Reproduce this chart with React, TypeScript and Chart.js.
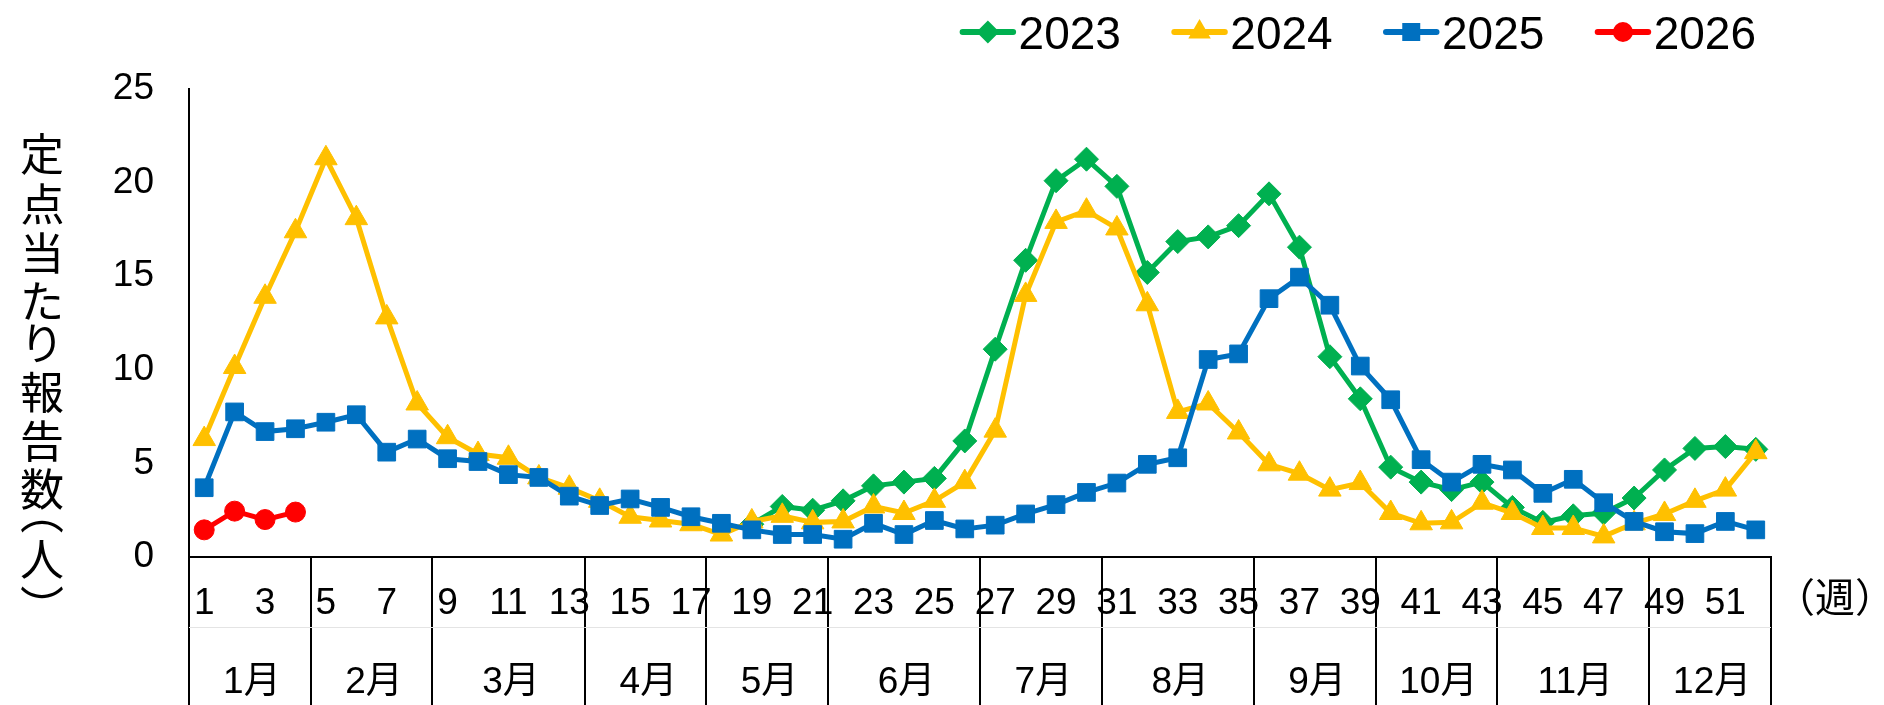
import React, { useEffect, useRef } from 'react';
import { Chart, registerables } from 'chart.js';

Chart.register(...registerables);

// ---- data ----
const weekLabels = ['1','2','3','4','5','6','7','8','9','10','11','12','13','14','15','16','17','18','19','20','21','22','23','24','25','26','27','28','29','30','31','32','33','34','35','36','37','38','39','40','41','42','43','44','45','46','47','48','49','50','51','52'];

const data2023 = [null,null,null,null,null,null,null,null,null,null,null,null,null,null,null,null,null,null,
  1.75,2.7,2.5,3.0,3.8,4.0,4.2,6.2,11.1,15.85,20.1,21.25,19.8,15.2,16.85,17.1,17.7,19.4,16.55,10.7,8.45,4.8,4.0,3.6,4.0,2.65,1.85,2.2,2.35,3.15,4.65,5.8,5.9,5.75];

const data2024 = [6.3,10.15,13.9,17.4,21.3,18.1,12.8,8.2,6.4,5.5,5.3,4.25,3.7,3.0,2.15,1.95,1.75,1.2,1.9,2.2,1.85,1.9,2.7,2.35,3.0,4.0,6.75,14.0,17.9,18.5,17.55,13.5,7.75,8.2,6.65,4.95,4.45,3.6,3.95,2.35,1.8,1.85,2.9,2.35,1.55,1.55,1.1,1.8,2.3,3.0,3.6,5.6];

const data2025 = [3.7,7.75,6.7,6.85,7.2,7.6,5.6,6.3,5.25,5.1,4.4,4.25,3.25,2.75,3.1,2.65,2.15,1.8,1.45,1.2,1.2,0.95,1.8,1.2,1.95,1.5,1.7,2.3,2.8,3.45,3.95,4.95,5.3,10.55,10.85,13.8,14.95,13.45,10.2,8.4,5.2,4.0,4.95,4.65,3.4,4.15,2.9,1.9,1.35,1.25,1.9,1.45];

const data2026 = [1.45,2.45,2.0,2.4];

const seriesNames = ['2023', '2024', '2025', '2026'];
const seriesColors = ['#00B050', '#FFC000', '#0070C0', '#FF0000'];
const seriesMarkers = ['rectRot', 'triangle', 'rect', 'circle'];

const monthLabels = ['1月','2月','3月','4月','5月','6月','7月','8月','9月','10月','11月','12月'];
const monthEndWeeks = [4, 8, 13, 17, 21, 26, 30, 35, 39, 43, 48, 52];

const yTitleChars = ['定','点','当','た','り','報','告','数','︵','人','︶'];
const weekUnitLabel = '（週）';

const DIGIT_FONT = '"Liberation Sans", Arial, "Noto Sans CJK JP", sans-serif';
const CJK_FONT = '"Noto Sans CJK JP", "Noto Sans CJK SC", sans-serif';

function drawInkCentered(ctx: CanvasRenderingContext2D, text: string, cx: number, cy: number) {
  ctx.textAlign = 'left';
  ctx.textBaseline = 'alphabetic';
  const m = ctx.measureText(text);
  const w = m.actualBoundingBoxLeft + m.actualBoundingBoxRight;
  const h = m.actualBoundingBoxAscent + m.actualBoundingBoxDescent;
  ctx.fillText(text, cx - w / 2 + m.actualBoundingBoxLeft, cy - h / 2 + m.actualBoundingBoxAscent);
}

function drawMarker(ctx: CanvasRenderingContext2D, style: string, x: number, y: number, color: string) {
  ctx.fillStyle = color;
  ctx.beginPath();
  if (style === 'rectRot') {
    const r = 11.5;
    ctx.moveTo(x - r, y); ctx.lineTo(x, y - r); ctx.lineTo(x + r, y); ctx.lineTo(x, y + r);
    ctx.closePath();
  } else if (style === 'triangle') {
    const r = 13;
    ctx.moveTo(x, y - r);
    ctx.lineTo(x + 0.866 * r, y + r / 2);
    ctx.lineTo(x - 0.866 * r, y + r / 2);
    ctx.closePath();
  } else if (style === 'rect') {
    const s = 9;
    ctx.rect(x - s, y - s, 2 * s, 2 * s);
  } else {
    ctx.arc(x, y, 10, 0, Math.PI * 2);
  }
  ctx.fill();
}

const decorPlugin = {
  id: 'decor',
  afterDraw(chart: any) {
    const ctx: CanvasRenderingContext2D = chart.ctx;
    const xs = chart.scales.x;
    const area = chart.chartArea;
    const H = chart.height;
    ctx.save();

    // table lines below the axis
    ctx.strokeStyle = '#000';
    ctx.lineWidth = 2;
    const bounds = [0, ...monthEndWeeks];
    bounds.forEach((n) => {
      const px = Math.round(xs.getPixelForValue(n - 0.5));
      ctx.beginPath();
      ctx.moveTo(px, area.bottom);
      ctx.lineTo(px, H);
      ctx.stroke();
    });
    // faint row separator
    ctx.strokeStyle = '#e4e4e4';
    ctx.lineWidth = 1;
    ctx.beginPath();
    ctx.moveTo(area.left, 627.5);
    ctx.lineTo(area.right, 627.5);
    ctx.stroke();

    // month labels
    ctx.fillStyle = '#000';
    ctx.font = `37px ${DIGIT_FONT}`;
    monthLabels.forEach((lab, i) => {
      const start = i === 0 ? 0 : monthEndWeeks[i - 1];
      const end = monthEndWeeks[i];
      const x0 = xs.getPixelForValue(start - 0.5);
      const x1 = xs.getPixelForValue(end - 0.5);
      drawInkCentered(ctx, lab, (x0 + x1) / 2, 680);
    });

    // (週)
    ctx.font = `40px ${CJK_FONT}`;
    drawInkCentered(ctx, weekUnitLabel, 1835, 596);

    // y title (vertical)
    const yCenters = [154, 204, 253, 301, 343, 392, 441, 489, 526, 559, 592];
    ctx.font = `44px ${CJK_FONT}`;
    yTitleChars.forEach((ch, i) => {
      drawInkCentered(ctx, ch, 42, yCenters[i]);
    });

    // legend
    const lx0 = 959.6;
    const step = 211.7;
    const ly = 32;
    seriesNames.forEach((name, i) => {
      const x0 = lx0 + i * step;
      ctx.strokeStyle = seriesColors[i];
      ctx.lineWidth = 6;
      ctx.lineCap = 'round';
      ctx.beginPath();
      ctx.moveTo(x0 + 3, ly);
      ctx.lineTo(x0 + 53.5, ly);
      ctx.stroke();
      drawMarker(ctx, seriesMarkers[i], x0 + 28.25, ly, seriesColors[i]);
      ctx.fillStyle = '#000';
      ctx.font = `46px ${DIGIT_FONT}`;
      ctx.textAlign = 'left';
      ctx.textBaseline = 'alphabetic';
      const m = ctx.measureText(name);
      const h = m.actualBoundingBoxAscent + m.actualBoundingBoxDescent;
      ctx.fillText(name, x0 + 61 + m.actualBoundingBoxLeft, 33.4 - h / 2 + m.actualBoundingBoxAscent);
    });

    ctx.restore();
  },
};

export default function App() {
  const ref = useRef<HTMLCanvasElement | null>(null);

  useEffect(() => {
    if (!ref.current) return;
    const radii = [12, 13, 12.5, 10];
    const orders = [4, 3, 2, 1];
    const seriesData = [data2023, data2024, data2025, data2026];
    const chart = new Chart(ref.current, {
      type: 'line',
      data: {
        labels: weekLabels,
        datasets: seriesNames.map((name, i) => ({
          label: name,
          data: seriesData[i],
          borderColor: seriesColors[i],
          backgroundColor: seriesColors[i],
          pointBackgroundColor: seriesColors[i],
          pointBorderColor: seriesColors[i],
          pointBorderWidth: 1,
          pointStyle: seriesMarkers[i] as any,
          pointRadius: radii[i],
          borderWidth: 5,
          tension: 0,
          fill: false,
          order: orders[i],
          clip: false as any,
        })),
      },
      options: {
        animation: false,
        responsive: true,
        maintainAspectRatio: false,
        devicePixelRatio: 1,
        layout: { padding: { top: 89, right: 113, bottom: 0, left: 0 } },
        plugins: {
          legend: { display: false },
          tooltip: { enabled: false },
          title: { display: false },
        },
        scales: {
          x: {
            type: 'category',
            offset: true,
            grid: { display: false, drawTicks: false },
            border: { display: true, color: '#000', width: 2 },
            ticks: {
              autoSkip: false,
              maxRotation: 0,
              minRotation: 0,
              padding: 25,
              color: '#000',
              font: { family: DIGIT_FONT, size: 37, lineHeight: 1.2 },
              callback: (_v: any, idx: number) => (idx % 2 === 0 ? weekLabels[idx] : ''),
            },
            afterFit: (scale: any) => { scale.height = 148; },
          },
          y: {
            min: 0,
            max: 25,
            grid: { display: false, drawTicks: false },
            border: { display: true, color: '#000', width: 2 },
            ticks: {
              stepSize: 5,
              padding: 35,
              color: '#000',
              font: { family: DIGIT_FONT, size: 37 },
            },
            afterFit: (scale: any) => { scale.width = 189; },
          },
        },
      },
      plugins: [decorPlugin],
    });
    return () => chart.destroy();
  }, []);

  return (
    <div style={{ position: 'fixed', left: 0, top: 0, width: 1884, height: 705, background: '#fff' }}>
      <canvas ref={ref} />
    </div>
  );
}
